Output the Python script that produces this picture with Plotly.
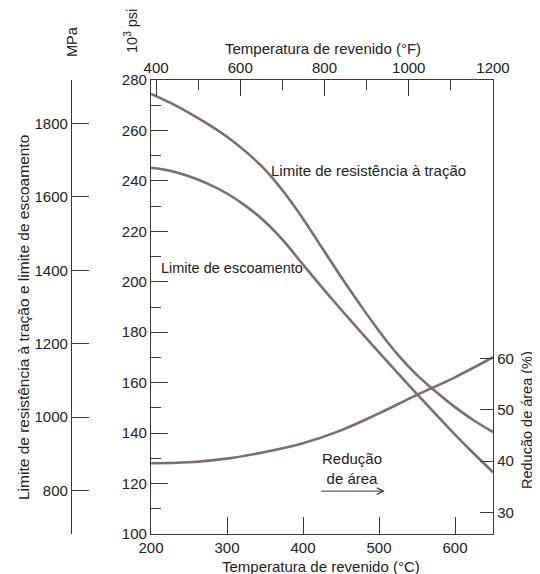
import plotly.graph_objects as go

# ---- data ----
temp_c = [200, 225, 250, 275, 300, 325, 350, 375, 400, 425, 450, 475, 500, 525, 550, 575, 600, 625, 650]
tensile_ksi = [274.5, 271.0, 267.0, 262.5, 257.5, 251.5, 244.5, 235.5, 225.0, 213.5, 202.0, 191.0,
               180.5, 171.0, 163.0, 156.4, 150.3, 145.0, 140.4]
yield_ksi = [245.2, 244.0, 241.8, 238.8, 235.0, 230.0, 223.8, 216.0, 206.8, 197.8, 189.0, 180.4,
             172.0, 163.7, 155.5, 147.4, 139.4, 131.8, 124.5]
ra_temp_c = [200, 250, 300, 350, 400, 450, 500, 550, 600, 650]
reduction_area = [39.6, 39.8, 40.5, 41.8, 43.5, 46.0, 49.3, 52.9, 56.3, 60.2]

c_ticks = [200, 300, 400, 500, 600]
f_ticks = [400, 600, 800, 1000, 1200]
ksi_ticks = [100, 120, 140, 160, 180, 200, 220, 240, 260, 280]
ra_ticks = [30, 40, 50, 60]
mpa_ticks = [800, 1000, 1200, 1400, 1600, 1800]

# the page body has an 8px margin, so the figure is drawn 8px in from the window corner
OFF = 8
W, H = 540 - OFF, 574 - OFF
FONT = "Liberation Sans, Arial, Helvetica, sans-serif"
TXT = "#222222"
AX = "#3a3a3a"
CURVE = "#7d6e6b"

def px_x(p):
    return (p - OFF) / W

def px_y(p):
    return 1 - (p - OFF) / H

fig = go.Figure()
fig.add_trace(go.Scatter(x=temp_c, y=tensile_ksi, mode="lines", line=dict(color=CURVE, width=2.6, shape="spline"),
                         xaxis="x", yaxis="y", hoverinfo="skip", showlegend=False))
fig.add_trace(go.Scatter(x=temp_c, y=yield_ksi, mode="lines", line=dict(color=CURVE, width=2.6, shape="spline"),
                         xaxis="x", yaxis="y", hoverinfo="skip", showlegend=False))
fig.add_trace(go.Scatter(x=ra_temp_c, y=reduction_area, mode="lines", line=dict(color=CURVE, width=2.6, shape="spline"),
                         xaxis="x", yaxis="y2", hoverinfo="skip", showlegend=False))
# invisible traces so the extra axes are drawn
fig.add_trace(go.Scatter(x=[800], y=[200], mode="markers", marker=dict(opacity=0), xaxis="x2", yaxis="y",
                         hoverinfo="skip", showlegend=False))
fig.add_trace(go.Scatter(x=[300], y=[1000], mode="markers", marker=dict(opacity=0), xaxis="x", yaxis="y3",
                         hoverinfo="skip", showlegend=False))

xdom = [px_x(151), px_x(493)]
ydom = [px_y(534), px_y(80)]
tickfont = dict(family=FONT, size=15, color=TXT)
common = dict(tickwidth=1, tickcolor=AX, showline=True, linecolor=AX, linewidth=1.3, showgrid=False,
              zeroline=False, tickfont=tickfont, automargin=False, ticks="inside")

fig.update_layout(
    width=W, height=H,
    margin=dict(l=0, r=0, t=0, b=0, autoexpand=False),
    paper_bgcolor="white", plot_bgcolor="white",
    font=dict(family=FONT, size=15, color=TXT),
    xaxis=dict(domain=xdom, range=[200, 650], tickvals=c_ticks, ticklen=17, anchor="y", **common),
    xaxis2=dict(overlaying="x", side="top", range=[388, 1200], tickvals=f_ticks, ticklen=16, anchor="y",
                minor=dict(ticks="inside", ticklen=10, tick0=500, dtick=200, tickcolor=AX, tickwidth=1,
                           showgrid=False), **common),
    yaxis=dict(domain=ydom, range=[100, 280], tickvals=ksi_ticks, ticklen=17, anchor="x",
               minor=dict(ticks="inside", ticklen=10, tick0=110, dtick=20, tickcolor=AX, tickwidth=1,
                          showgrid=False), **common),
    yaxis2=dict(overlaying="y", side="right", range=[25.86, 114.07], tickvals=ra_ticks, ticklen=13,
                anchor="x", **common),
    yaxis3=dict(overlaying="y", side="left", anchor="free", position=px_x(71), range=[682, 1918],
                tickvals=mpa_ticks, ticklen=17, **common),
)

ann = []
def text(x, y, s, angle=0, xanchor="center", yanchor="middle", xref="paper", yref="paper", size=15):
    ann.append(dict(x=x, y=y, xref=xref, yref=yref, text=s, showarrow=False, textangle=angle,
                    xanchor=xanchor, yanchor=yanchor, font=dict(family=FONT, size=size, color=TXT)))

text(px_x(323), px_y(48), "Temperatura de revenido (°F)")
text(px_x(321), px_y(566), "Temperatura de revenido (°C)")
text(px_x(23), px_y(318), "Limite de resistência à tração e limite de escoamento", angle=-90, size=15.5)
text(px_x(527), px_y(420), "Redução de área (%)", angle=-90, size=14.5)
text(px_x(131), px_y(31), "10<sup>3</sup> psi", angle=-90, size=14.5)
text(px_x(72), px_y(42), "MPa", angle=-90, size=14.5)
text(355.6, 244, "Limite de resistência à tração", xanchor="left", xref="x", yref="y")
text(210.5, 205.3, "Limite de escoamento", xanchor="left", xref="x", yref="y", size=14.5)
text(464, 126, "Redução<br>de área", xref="x", yref="y")
ann.append(dict(x=507.6, y=117, ax=422, ay=117, xref="x", yref="y", axref="x", ayref="y", text="",
                showarrow=True, arrowhead=5, arrowsize=1.3, arrowwidth=1, arrowcolor=AX))
fig.update_layout(annotations=ann)

fig.write_html("out.html")
